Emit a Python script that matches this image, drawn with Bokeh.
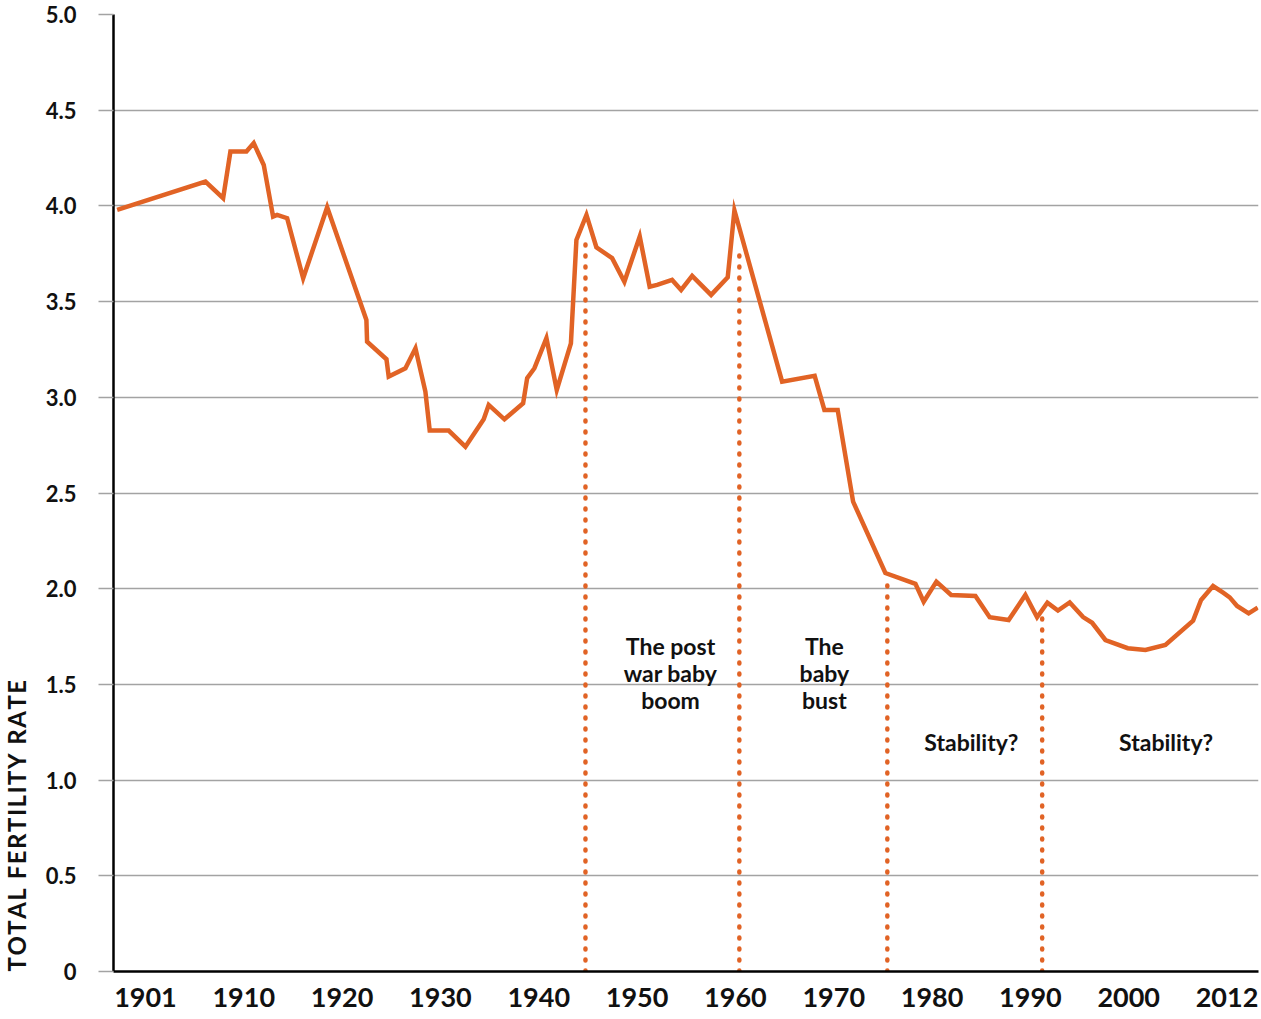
import math
from bokeh.plotting import figure
from bokeh.layouts import row
from bokeh.models import FixedTicker, Range1d, ColumnDataSource
from bokeh.core.properties import value
from bokeh.embed import file_html
from bokeh.resources import INLINE

# ---- data ----
years = [1897.12, 1906.10, 1907.90, 1908.64, 1910.27, 1911.01, 1912.03, 1912.98, 1913.39,
         1914.41, 1916.04, 1918.48, 1922.47, 1922.54, 1924.51, 1924.74, 1926.44, 1927.46,
         1928.47, 1928.91, 1930.84, 1932.54, 1934.40, 1934.91, 1936.51, 1938.41, 1938.82,
         1939.56, 1940.78, 1941.83, 1943.27, 1943.83, 1944.85, 1945.86, 1947.46, 1948.71,
         1950.27, 1951.28, 1952.04, 1953.56, 1954.48, 1955.60, 1957.53, 1959.22, 1959.90,
         1964.75, 1968.06, 1969.05, 1970.40, 1971.97, 1975.25, 1978.31, 1979.15, 1980.44,
         1981.94, 1984.41, 1985.86, 1987.79, 1989.49, 1990.68, 1991.73, 1992.80, 1994.00,
         1995.36, 1996.28, 1997.63, 1999.90, 2001.70, 2003.73, 2006.55, 2007.36, 2008.58,
         2009.60, 2010.27, 2011.02, 2012.20, 2013.12]
tfr = [3.979, 4.127, 4.040, 4.284, 4.284, 4.328, 4.214, 3.944, 3.953,
       3.936, 3.622, 3.993, 3.404, 3.291, 3.199, 3.108, 3.152, 3.256,
       3.030, 2.826, 2.826, 2.742, 2.885, 2.960, 2.885, 2.969, 3.100,
       3.152, 3.309, 3.038, 3.282, 3.822, 3.953, 3.784, 3.727, 3.604,
       3.840, 3.578, 3.587, 3.613, 3.561, 3.634, 3.535, 3.627, 3.977,
       3.082, 3.112, 2.934, 2.934, 2.455, 2.082, 2.025, 1.932, 2.037,
       1.967, 1.962, 1.851, 1.836, 1.967, 1.851, 1.927, 1.886, 1.928,
       1.852, 1.822, 1.732, 1.689, 1.680, 1.706, 1.833, 1.941, 2.014,
       1.979, 1.955, 1.910, 1.871, 1.901]

period_bounds = [1944.75, 1960.40, 1975.45, 1991.20]
period_tops = [3.83, 3.79, 2.03, 1.85]

note_text = ["The post\nwar baby\nboom", "The\nbaby\nbust", "Stability?", "Stability?"]
note_x = [1953.4, 1969.05, 1984.0, 2003.8]
note_y = [1.56, 1.56, 1.20, 1.20]

xtick_pos = [1900, 1910, 1920, 1930, 1940, 1950, 1960, 1970, 1980, 1990, 2000, 2010]
xtick_labels = ["1901", "1910", "1920", "1930", "1940", "1950", "1960", "1970",
                "1980", "1990", "2000", "2012"]
ytick_pos = [0, 0.5, 1.0, 1.5, 2.0, 2.5, 3.0, 3.5, 4.0, 4.5, 5.0]
ytick_labels = ["0", "0.5", "1.0", "1.5", "2.0", "2.5", "3.0", "3.5", "4.0", "4.5", "5.0"]

y_title = "TOTAL FERTILITY RATE"

# ---- styling ----
ORANGE = "#E16325"
GRID = "#a3a3a3"
FONT = "Lato"
TXT = "#111111"
X0, X1 = 1896.75, 2013.2
TITLE_W = 35
TOP, BOTTOM = 14, 48

p = figure(width=1261 - TITLE_W, height=1019,
           x_range=Range1d(X0, X1), y_range=Range1d(0, 5),
           output_backend="svg", toolbar_location=None,
           min_border_left=113 - TITLE_W, min_border_right=3,
           min_border_top=TOP, min_border_bottom=BOTTOM)
p.outline_line_color = None
p.background_fill_color = "white"
p.border_fill_color = "white"

p.xgrid.visible = False
p.ygrid.grid_line_color = GRID
p.ygrid.grid_line_width = 1.3

# y axis
p.yaxis.ticker = FixedTicker(ticks=ytick_pos)
p.yaxis.major_label_overrides = {t: l for t, l in zip(ytick_pos, ytick_labels)}
p.yaxis.minor_tick_line_color = None
p.yaxis.major_tick_in = 0
p.yaxis.major_tick_out = 15
p.yaxis.major_tick_line_color = GRID
p.yaxis.major_tick_line_width = 1.3
p.yaxis.major_label_standoff = 22
p.yaxis.axis_line_color = "black"
p.yaxis.axis_line_width = 2.5
p.yaxis.major_label_text_font = FONT
p.yaxis.major_label_text_font_style = "bold"
p.yaxis.major_label_text_font_size = "22px"
p.yaxis.major_label_text_color = TXT

# x axis
p.xaxis.ticker = FixedTicker(ticks=xtick_pos)
p.xaxis.major_label_overrides = {t: l for t, l in zip(xtick_pos, xtick_labels)}
p.xaxis.minor_tick_line_color = None
p.xaxis.major_tick_line_color = None
p.xaxis.major_tick_in = 0
p.xaxis.major_tick_out = 0
p.xaxis.major_label_standoff = 16
p.xaxis.axis_line_color = "black"
p.xaxis.axis_line_width = 2.5
p.xaxis.major_label_text_font = FONT
p.xaxis.major_label_text_font_style = "bold"
p.xaxis.major_label_text_font_size = "27px"
p.xaxis.major_label_text_color = TXT

# dotted period boundaries
bsrc = ColumnDataSource(dict(x=period_bounds, top=period_tops, bottom=[0] * len(period_bounds)))
p.segment(x0="x", y0="bottom", x1="x", y1="top", source=bsrc, line_color=ORANGE,
          line_width=4.5, line_dash="1 10", line_cap="round")

# main series
p.line(years, tfr, line_color=ORANGE, line_width=4.5, line_join="miter")

# annotations
nsrc = ColumnDataSource(dict(x=note_x, y=note_y, t=note_text))
p.text(x="x", y="y", text="t", source=nsrc, text_align="center", text_baseline="middle",
       text_font=value(FONT), text_font_style="bold", text_font_size="23px",
       text_color=TXT, text_line_height=0.97)

# narrow strip on the left carrying the vertical axis title (bottom aligned)
t = figure(width=TITLE_W, height=1019, x_range=Range1d(0, TITLE_W), y_range=Range1d(0, 5),
           output_backend="svg", toolbar_location=None,
           x_axis_location=None, y_axis_location=None,
           min_border_left=0, min_border_right=0,
           min_border_top=TOP, min_border_bottom=BOTTOM)
t.outline_line_color = None
t.grid.visible = False
spaced = "\u200a".join(list(y_title))
t.text(x=[15.5], y=[0], text=[spaced], angle=math.pi / 2, text_align="left",
       text_baseline="middle", text_font=value(FONT), text_font_style="bold",
       text_font_size="24px", text_color=TXT)

layout = row(t, p, spacing=0)
open("out.html", "w").write(file_html(layout, INLINE))
